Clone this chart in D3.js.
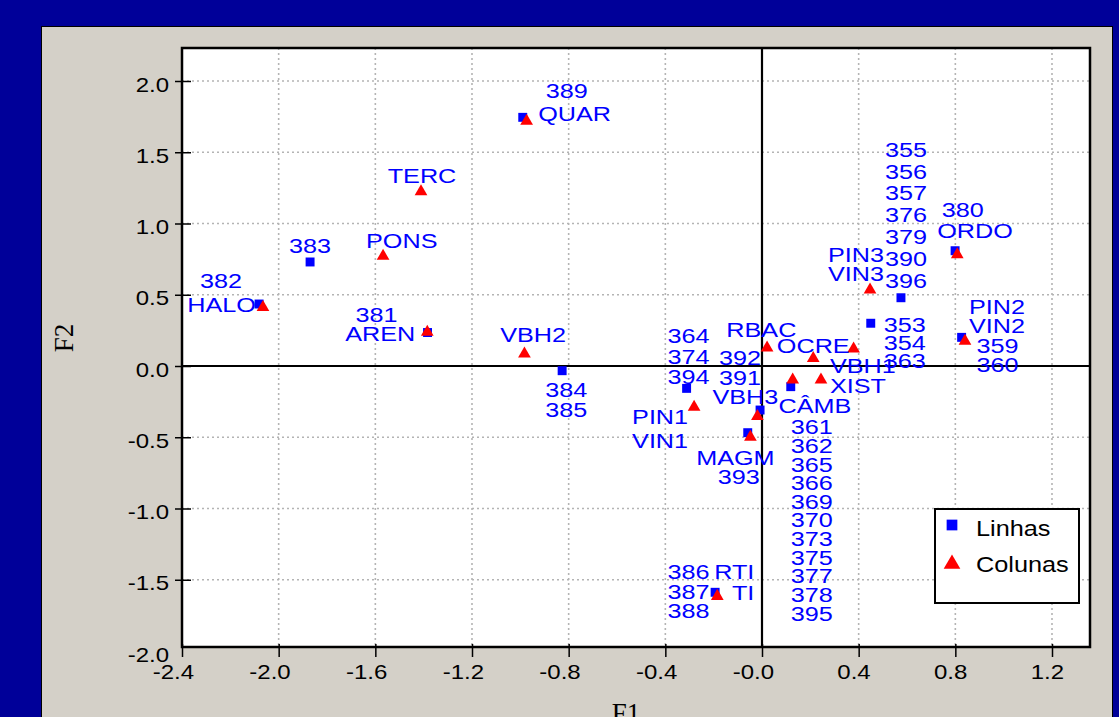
<!DOCTYPE html>
<html>
<head>
<meta charset="utf-8">
<script src="https://cdn.jsdelivr.net/npm/d3@7"></script>
<style>
  html, body { margin: 0; padding: 0; background: #000099; }
  svg { display: block; }
</style>
</head>
<body>
<svg id="chart" width="1119" height="717"></svg>
<script>
// ---- Data ----
const rowLabels = ["382", "383", "381", "389", "384\n385", "364\n374\n394", "392\n391", "393",
  "361\n362\n365\n366\n369\n370\n373\n375\n377\n378\n395",
  "355\n356\n357\n376\n379\n390\n396", "353\n354\n363", "380", "359\n360", "386\n387\n388"];
const rowF1 = [-2.081, -1.870, -1.384, -0.990, -0.827, -0.312, -0.008, -0.059, 0.119, 0.575, 0.450, 0.799, 0.826, -0.194];
const rowF2 = [0.435, 0.730, 0.235, 1.745, -0.033, -0.157, -0.309, -0.468, -0.145, 0.479, 0.300, 0.809, 0.201, -1.588];

const colLabels = ["HALO", "PONS", "TERC", "AREN", "QUAR", "VBH2", "PIN1\nVIN1", "RBAC", "VBH3", "MAGM",
  "OCRE", "VBH1", "CÂMB", "XIST", "PIN3\nVIN3", "ORDO", "PIN2\nVIN2", "RTI\nTI"];
const colF1 = [-2.065, -1.568, -1.411, -1.385, -0.974, -0.983, -0.281, 0.021, -0.019, -0.048,
  0.212, 0.379, 0.127, 0.244, 0.447, 0.808, 0.840, -0.185];
const colF2 = [0.416, 0.774, 1.228, 0.241, 1.722, 0.089, -0.285, 0.131, -0.349, -0.496,
  0.058, 0.124, -0.093, -0.093, 0.538, 0.786, 0.178, -1.612];

const xTickValues = [-2.4, -2.0, -1.6, -1.2, -0.8, -0.4, 0.0, 0.4, 0.8, 1.2];
const xTickLabels = ["-2.4", "-2.0", "-1.6", "-1.2", "-0.8", "-0.4", "-0.0", "0.4", "0.8", "1.2"];
const yTickValues = [-2.0, -1.5, -1.0, -0.5, 0.0, 0.5, 1.0, 1.5, 2.0];
const yTickLabels = ["-2.0", "-1.5", "-1.0", "-0.5", "0.0", "0.5", "1.0", "1.5", "2.0"];

const legendLabels = ["Linhas", "Colunas"];
const xTitle = "F1", yTitle = "F2";

// ---- Label placement (layout only: offset from marker in px, anchor, line height) ----
const rowLabelLayout = [
  [-38, -16, "middle", 20], [0, -9, "middle", 20], [-51, -11, "middle", 20], [44, -19, "middle", 20],
  [4, 26, "middle", 20], [2, -45, "middle", 20.4], [-20, -45, "middle", 20], [-9, 51.6, "middle", 20],
  [21, 47.6, "middle", 18.64], [5, -141, "middle", 21.8], [34, 8.4, "middle", 18.3],
  [7.7, -33.4, "middle", 20], [36, 15.4, "middle", 19], [-26.5, -13, "middle", 19.5]
];
const colLabelLayout = [
  [-7, 5, "end", 20], [18.7, -7.4, "middle", 20], [1, -8, "middle", 20], [-12, 9.3, "end", 20],
  [11.6, 0, "start", 20], [8.7, -11, "middle", 20], [-6, 17.3, "end", 23.7], [-5.7, -10.6, "middle", 20],
  [-12, -11.4, "middle", 20], [-15, 28.3, "middle", 20], [0, -4.4, "middle", 20], [9.3, 24.4, "middle", 20],
  [22.3, 34, "middle", 20], [9, 13.7, "start", 20], [-14, -27.6, "middle", 19.3], [17.7, -15.7, "middle", 20],
  [32, -26.4, "middle", 19], [37, -16.4, "end", 20.7]
];

// ---- Layout ----
const W = 1119, H = 717;
const plot = { left: 182, top: 48, right: 1090, bottom: 647 };
const SANS = "'Liberation Sans', Arial, Helvetica, sans-serif";
const SERIF = "'Liberation Serif', 'Times New Roman', serif";
const STRETCH = 1.2;

const svg = d3.select("#chart");

svg.append("rect").attr("width", W).attr("height", H).attr("fill", "#000099");
svg.append("rect").attr("x", 41.5).attr("y", 26.5).attr("width", 1071).attr("height", 730)
  .attr("fill", "#d4d0c8").attr("stroke", "#000").attr("stroke-width", 1);

const x = d3.scaleLinear().domain([-2.4, 1.2]).range([182, 1052]);
const y = d3.scaleLinear().domain([-1.5, 2.0]).range([579.75, 81]);

// plot background
svg.append("rect").attr("x", plot.left).attr("y", plot.top)
  .attr("width", plot.right - plot.left).attr("height", plot.bottom - plot.top)
  .attr("fill", "#fff");

// grid
const grid = svg.append("g");
grid.selectAll("line.vx").data(xTickValues.filter(v => v !== 0 && x(v) > plot.left + 2))
  .join("line").attr("x1", d => x(d)).attr("x2", d => x(d))
  .attr("y1", plot.top).attr("y2", plot.bottom)
  .attr("stroke", "#b4b4b4").attr("stroke-width", 1.6).attr("stroke-dasharray", "2,3");
grid.selectAll("line.hy").data(yTickValues.filter(v => v !== 0 && y(v) < plot.bottom - 2))
  .join("line").attr("y1", d => y(d)).attr("y2", d => y(d))
  .attr("x1", plot.left).attr("x2", plot.right)
  .attr("stroke", "#b4b4b4").attr("stroke-width", 1.6).attr("stroke-dasharray", "2,3");

// zero lines
svg.append("line").attr("x1", plot.left).attr("x2", plot.right).attr("y1", y(0)).attr("y2", y(0))
  .attr("stroke", "#000").attr("stroke-width", 2.2);
svg.append("line").attr("x1", x(0)).attr("x2", x(0)).attr("y1", plot.top).attr("y2", plot.bottom)
  .attr("stroke", "#000").attr("stroke-width", 2.2);

// axes
const xAxis = d3.axisBottom(x).tickValues(xTickValues)
  .tickFormat((d, i) => xTickLabels[i]).tickSizeOuter(0);
const gx = svg.append("g").attr("transform", `translate(0,${plot.bottom})`).call(xAxis);
gx.select(".domain").remove();
gx.selectAll(".tick line").attr("y1", -3).attr("y2", 10).attr("stroke", "#000").attr("stroke-width", 1.5);
gx.selectAll(".tick text")
  .attr("x", 0).attr("y", 32).attr("dy", null)
  .attr("text-anchor", "end")
  .attr("transform", `translate(11.5,0) scale(${STRETCH},1)`)
  .attr("font-family", SANS).attr("font-size", 20).attr("fill", "#000");

const yAxis = d3.axisLeft(y).tickValues(yTickValues)
  .tickFormat((d, i) => yTickLabels[i]).tickSizeOuter(0);
const gy = svg.append("g").attr("transform", `translate(${plot.left},0)`).call(yAxis);
gy.select(".domain").remove();
gy.selectAll(".tick line").attr("x1", d => y(d) > plot.bottom ? 0 : -7).attr("x2", d => y(d) > plot.bottom ? 0 : 9)
  .attr("stroke", "#000").attr("stroke-width", 1.5);
gy.selectAll(".tick text")
  .attr("x", 0).attr("y", 10).attr("dy", null)
  .attr("text-anchor", "end")
  .attr("transform", `translate(-13,0) scale(${STRETCH},1)`)
  .attr("font-family", SANS).attr("font-size", 20).attr("fill", "#000");

// plot border
svg.append("rect").attr("x", plot.left).attr("y", plot.top)
  .attr("width", plot.right - plot.left).attr("height", plot.bottom - plot.top)
  .attr("fill", "none").attr("stroke", "#000").attr("stroke-width", 2.5);

// axis titles
svg.append("text").attr("transform", "translate(73,338) rotate(-90)")
  .attr("text-anchor", "middle").attr("font-family", SERIF).attr("font-size", 27)
  .attr("fill", "#000").text(yTitle);
svg.append("text").attr("x", 626).attr("y", 722)
  .attr("text-anchor", "middle").attr("font-family", SERIF).attr("font-size", 27)
  .attr("fill", "#000").text(xTitle);

// markers
const rows = rowLabels.map((l, i) => ({ label: l, f1: rowF1[i], f2: rowF2[i], lay: rowLabelLayout[i] }));
const cols = colLabels.map((l, i) => ({ label: l, f1: colF1[i], f2: colF2[i], lay: colLabelLayout[i] }));

const sq = d3.symbol().type(d3.symbolSquare).size(80);
const tri = d3.symbol().type(d3.symbolTriangle).size(70);

svg.append("g").selectAll("path").data(rows).join("path")
  .attr("d", sq).attr("transform", d => `translate(${x(d.f1)},${y(d.f2)})`)
  .attr("fill", "#0000ff");
svg.append("g").selectAll("path").data(cols).join("path")
  .attr("d", tri).attr("transform", d => `translate(${x(d.f1)},${y(d.f2) + 0.5})`)
  .attr("fill", "#ff0000");

// labels
function drawLabels(data) {
  const t = svg.append("g").selectAll("text").data(data).join("text")
    .attr("transform", d => `translate(${x(d.f1) + d.lay[0]},${y(d.f2) + d.lay[1]}) scale(${STRETCH},1)`)
    .attr("text-anchor", d => d.lay[2])
    .attr("font-family", SANS).attr("font-size", 21).attr("fill", "#0000ff");
  t.each(function (d) {
    const lines = d.label.split("\n");
    d3.select(this).selectAll("tspan").data(lines).join("tspan")
      .attr("x", 0).attr("dy", (l, i) => i === 0 ? 0 : d.lay[3]).text(l => l);
  });
}
drawLabels(rows);
drawLabels(cols);

// legend
const lg = svg.append("g");
lg.append("rect").attr("x", 935).attr("y", 509).attr("width", 144).attr("height", 94)
  .attr("fill", "#fff").attr("stroke", "#000").attr("stroke-width", 2);
lg.append("path").attr("d", d3.symbol().type(d3.symbolSquare).size(115)())
  .attr("transform", "translate(952,525)").attr("fill", "#0000ff");
lg.append("path").attr("d", d3.symbol().type(d3.symbolTriangle).size(120)())
  .attr("transform", "translate(952,564)").attr("fill", "#ff0000");
lg.selectAll("text").data(legendLabels).join("text")
  .attr("transform", (d, i) => `translate(976,${[535.5, 571.5][i]}) scale(1.15,1)`)
  .attr("font-family", SANS).attr("font-size", 22).attr("fill", "#000").text(d => d);
</script>
</body>
</html>
